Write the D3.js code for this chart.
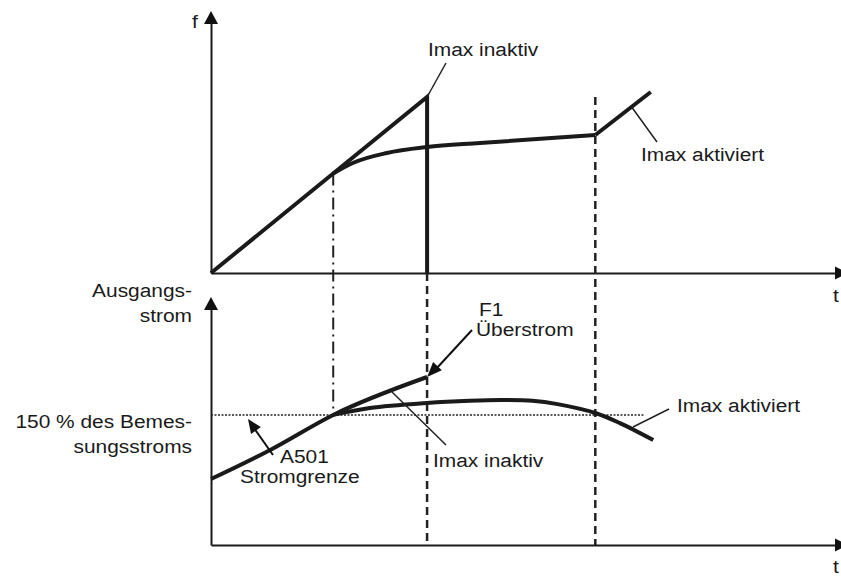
<!DOCTYPE html>
<html>
<head>
<meta charset="utf-8">
<script src="https://cdn.jsdelivr.net/npm/d3@7"></script>
<style>
  body { margin: 0; background: #fff; }
  svg { display: block; }
  text { font-family: "Liberation Sans", Arial, sans-serif; font-size: 19px; fill: #1a1a1a; }
</style>
</head>
<body>
<div id="chart"></div>
<script>
// time in arbitrary units (0..100), f and I in % of axis height
const tKnee = 19.4;     // Stromgrenze erreicht
const tTrip = 34.3;     // F1 Überstrom
const tAct = 61;        // Imax wieder aktiv -> f steigt

// upper panel: frequency
const fInaktiv = [[0, 0], [34.3, 70.4], [34.3, 0]];
const fAktivCurve = [[19.4, 39.8], [22.5, 44], [27.9, 48], [34.3, 50.4], [42.7, 52], [61, 55.2]];
const fAktivRamp = [[61, 55.2], [69.8, 72.4]];

// lower panel: output current
const iInaktiv = [[0, 27.5], [9.4, 39.6], [19.4, 54.2], [34.3, 70]];
const iAktiv = [[19.4, 54.2], [25.2, 57.1], [34.3, 59.2], [41.1, 60.1], [46, 60.4], [51, 60.1], [55, 58.7], [61, 55], [64.9, 50.8], [70.2, 43.75]];
const iLimit = 54.2;
const iLimitEnd = 68.9;

const width = 841;
const height = 577;

const x = d3.scaleLinear().domain([0, 100]).range([211, 841]);
const yF = d3.scaleLinear().domain([0, 100]).range([273, 23]);
const yI = d3.scaleLinear().domain([0, 100]).range([545, 305]);

const svg = d3.select("#chart")
  .append("svg")
  .attr("width", width)
  .attr("height", height);

// axes without ticks, just the lines
function bareAxis(g, axis) {
  g.call(axis.ticks(0).tickSizeOuter(0));
  g.select(".domain").attr("stroke", "#1a1a1a").attr("stroke-width", 2);
}
svg.append("g").attr("transform", `translate(0,${yF(0)})`).call(g => bareAxis(g, d3.axisBottom(x)));
svg.append("g").attr("transform", `translate(${x(0)},0)`).call(g => bareAxis(g, d3.axisLeft(yF)));
svg.append("g").attr("transform", `translate(0,${yI(0)})`).call(g => bareAxis(g, d3.axisBottom(x)));
svg.append("g").attr("transform", `translate(${x(0)},0)`).call(g => bareAxis(g, d3.axisLeft(yI)));

// arrow heads
function arrowHead(tip, from, len, half) {
  const dx = tip[0] - from[0], dy = tip[1] - from[1];
  const d = Math.hypot(dx, dy);
  const ux = dx / d, uy = dy / d;
  const bx = tip[0] - ux * len, by = tip[1] - uy * len;
  svg.append("path")
    .attr("d", `M${tip[0]},${tip[1]}L${bx - uy * half},${by + ux * half}L${bx + uy * half},${by - ux * half}Z`)
    .attr("fill", "#111");
}
arrowHead([x(0), 11], [x(0), 100], 13, 7);
arrowHead([x(0), 297], [x(0), 400], 13, 7);
arrowHead([848, yF(0)], [700, yF(0)], 13, 6.5);
arrowHead([848, yI(0)], [700, yI(0)], 13, 6.5);

// vertical event markers
svg.append("line")
  .attr("x1", x(tKnee)).attr("x2", x(tKnee))
  .attr("y1", yF(39.8)).attr("y2", yI(iLimit))
  .attr("stroke", "#222").attr("stroke-width", 2)
  .attr("stroke-dasharray", "12,5,2,5");
svg.append("line")
  .attr("x1", x(tTrip)).attr("x2", x(tTrip))
  .attr("y1", yF(0)).attr("y2", yI(0))
  .attr("stroke", "#222").attr("stroke-width", 2.5)
  .attr("stroke-dasharray", "8,5");
svg.append("line")
  .attr("x1", x(tAct)).attr("x2", x(tAct))
  .attr("y1", yF(70.4)).attr("y2", yI(0))
  .attr("stroke", "#222").attr("stroke-width", 2.5)
  .attr("stroke-dasharray", "8,5");

// 150 % limit
svg.append("line")
  .attr("x1", x(0)).attr("x2", x(iLimitEnd))
  .attr("y1", yI(iLimit)).attr("y2", yI(iLimit))
  .attr("stroke", "#222").attr("stroke-width", 1.5)
  .attr("stroke-dasharray", "2,1.5");

// curves
const lineF = d3.line().x(d => x(d[0])).y(d => yF(d[1]));
const lineI = d3.line().x(d => x(d[0])).y(d => yI(d[1]));
const thick = { stroke: "#1a1a1a", "stroke-width": 4, fill: "none", "stroke-linejoin": "miter" };

function drawPath(d) {
  const p = svg.append("path").attr("d", d);
  Object.entries(thick).forEach(([k, v]) => p.attr(k, v));
  return p;
}
drawPath(lineF(fInaktiv));
drawPath(lineF.curve(d3.curveMonotoneX)(fAktivCurve));
drawPath(lineF.curve(d3.curveLinear)(fAktivRamp));
drawPath(lineI.curve(d3.curveMonotoneX)(iInaktiv));
drawPath(lineI.curve(d3.curveCatmullRom)(iAktiv));

// leader lines
const leaders = [
  [[x(34.3), yF(70.4)], [446, 63]],
  [[x(66.8), yF(66.3)], [657, 142]],
  [[392, 392], [446, 445]],
  [[633, 427], [669, 409]]
];
leaders.forEach(l => {
  svg.append("line")
    .attr("x1", l[0][0]).attr("y1", l[0][1])
    .attr("x2", l[1][0]).attr("y2", l[1][1])
    .attr("stroke", "#222").attr("stroke-width", 1.5);
});

// annotation arrows
svg.append("line").attr("x1", 472).attr("y1", 330).attr("x2", 436).attr("y2", 369)
  .attr("stroke", "#111").attr("stroke-width", 2);
arrowHead([x(tTrip), yI(70)], [472, 330], 15, 6);
svg.append("line").attr("x1", 273).attr("y1", 455).attr("x2", 254).attr("y2", 428)
  .attr("stroke", "#111").attr("stroke-width", 2);
arrowHead([248, 419], [273, 455], 14, 6);

// labels
const labels = [
  { t: "f", x: 192, y: 28, a: "start" },
  { t: "t", x: 833, y: 302, a: "start" },
  { t: "t", x: 833, y: 573, a: "start" },
  { t: "Imax inaktiv", x: 428, y: 56, a: "start" },
  { t: "Imax aktiviert", x: 641, y: 161, a: "start" },
  { t: "Ausgangs-", x: 192, y: 297, a: "end" },
  { t: "strom", x: 192, y: 322, a: "end" },
  { t: "150 % des Bemes-", x: 192, y: 428, a: "end" },
  { t: "sungsstroms", x: 192, y: 453, a: "end" },
  { t: "A501", x: 280, y: 463, a: "start" },
  { t: "Stromgrenze", x: 240, y: 483, a: "start" },
  { t: "F1", x: 479, y: 316, a: "start" },
  { t: "Überstrom", x: 476, y: 336, a: "start" },
  { t: "Imax inaktiv", x: 433, y: 467, a: "start" },
  { t: "Imax aktiviert", x: 677, y: 412, a: "start" }
];
svg.selectAll("text.lbl")
  .data(labels)
  .enter()
  .append("text")
  .attr("class", "lbl")
  .attr("transform", d => `translate(${d.x},${d.y}) scale(1.1,1)`)
  .style("text-anchor", d => d.a)
  .text(d => d.t);
</script>
</body>
</html>
